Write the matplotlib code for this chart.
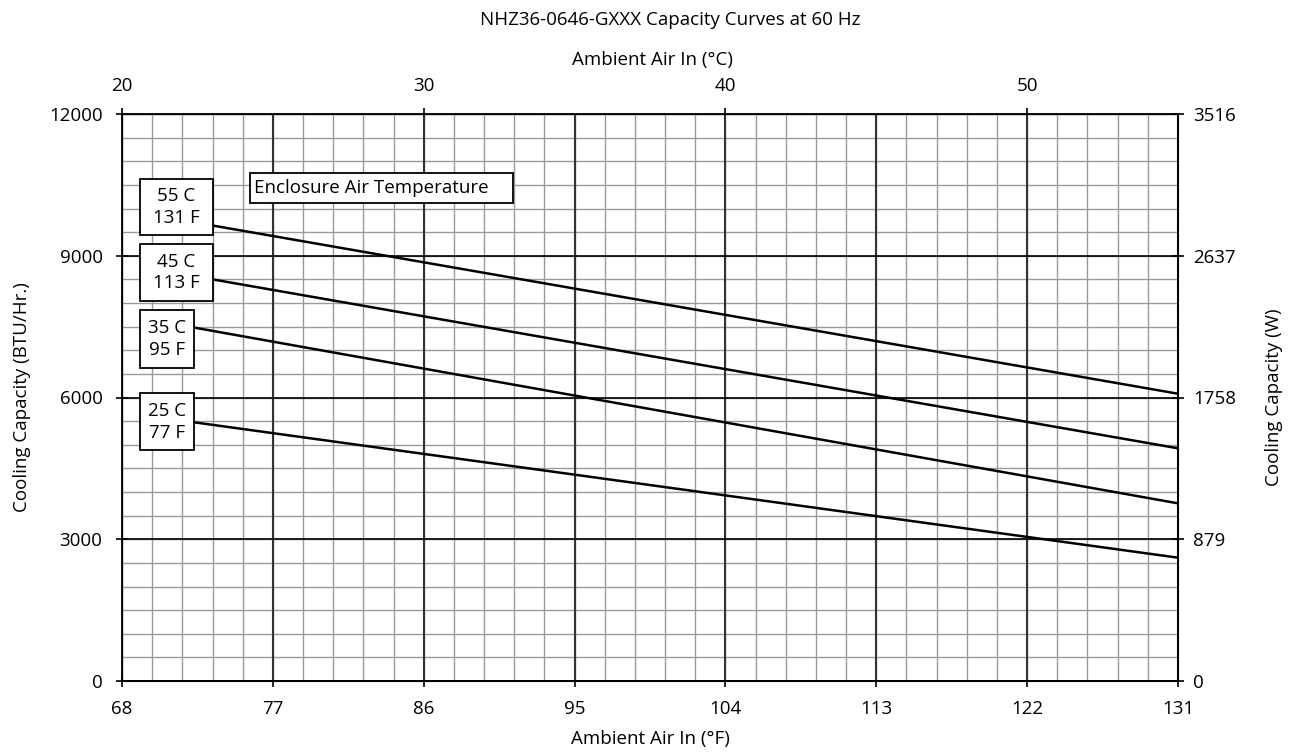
import numpy as np
import matplotlib.pyplot as plt
from matplotlib.patches import Rectangle

plt.rcParams['font.family'] = ['Open Sans', 'DejaVu Sans']

# curve endpoints (deg F, BTU/Hr)
curve_names = ['55 C\n131 F', '45 C\n113 F', '35 C\n95 F', '25 C\n77 F']
x_start = [73.4, 73.4, 72.3, 72.3]
x_end = [131, 131, 131, 131]
y_start = [9640, 8500, 7480, 5475]
y_end = [6080, 4925, 3760, 2610]

f_ticks = [68, 77, 86, 95, 104, 113, 122, 131]
c_ticks = [20, 30, 40, 50]
btu_ticks = [0, 3000, 6000, 9000, 12000]
w_ticks = [0, 879, 1758, 2637, 3516]

FS = 13.5
W, H = 1298, 752

fig = plt.figure(figsize=(W / 100, H / 100), dpi=100)
ax = fig.add_axes([122 / W, 71 / H, 1056 / W, 567 / H])
ax.set_xlim(68, 131)
ax.set_ylim(0, 12000)

# minor grid: 1 C steps and 500 BTU steps
for xv in np.arange(68, 131.01, 1.8):
    ax.axvline(xv, color='#9a9a9a', lw=1.0, zorder=1)
for yv in np.arange(0, 12001, 500):
    ax.axhline(yv, color='#9a9a9a', lw=1.0, zorder=1)
for xv in f_ticks:
    ax.axvline(xv, color='#333333', lw=1.5, zorder=2)
for yv in btu_ticks:
    ax.axhline(yv, color='black', lw=1.2, zorder=2)

for i in range(len(curve_names)):
    ax.plot([x_start[i], x_end[i]], [y_start[i], y_end[i]], color='black', lw=1.8, zorder=4)

# label boxes (left edge, right edge, bottom, top in data units)
boxes = [(69.07, 73.41, 9433, 10631), (69.07, 73.41, 8042, 9255),
         (69.07, 72.27, 6631, 7845), (69.07, 72.27, 4883, 6089)]
for name, (x0, x1, y0, y1) in zip(curve_names, boxes):
    ax.add_patch(Rectangle((x0, y0), x1 - x0, y1 - y0, fc='white', ec='black', lw=1.3, zorder=5))
    ax.text((x0 + x1) / 2, (y0 + y1) / 2, name, ha='center', va='center', fontsize=FS,
            linespacing=1.25, zorder=6)

ax.add_patch(Rectangle((75.62, 10110), 91.31 - 75.62, 10745 - 10110, fc='white', ec='black',
                       lw=1.3, zorder=5))
ax.text(75.9, 10427, 'Enclosure Air Temperature', ha='left', va='center', fontsize=FS, zorder=6)

ax.set_xticks(f_ticks)
ax.set_yticks(btu_ticks)
ax.tick_params(labelsize=FS, length=8, width=1.2, direction='inout', pad=10)
for s in ax.spines.values():
    s.set_linewidth(1.3)

top = ax.secondary_xaxis('top', functions=(lambda f: (f - 32) / 1.8, lambda c: c * 1.8 + 32))
top.set_xticks(c_ticks)
top.tick_params(labelsize=FS, length=8, width=1.2, direction='inout', pad=10)

ax2 = ax.twinx()
ax2.set_ylim(0, 3516)
ax2.set_yticks(w_ticks)
ax2.tick_params(labelsize=FS, length=8, width=1.2, direction='inout', pad=7)

fig.text(650 / W, 1 - 739 / H, 'Ambient Air In (°F)', ha='center', va='center', fontsize=FS)
fig.text(652 / W, 1 - 60 / H, 'Ambient Air In (°C)', ha='center', va='center', fontsize=FS)
fig.text(22 / W, 1 - 397 / H, 'Cooling Capacity (BTU/Hr.)', ha='center', va='center',
         rotation=90, fontsize=FS)
fig.text(1274 / W, 1 - 397 / H, 'Cooling Capacity (W)', ha='center', va='center',
         rotation=90, fontsize=FS)
fig.text(670 / W, 1 - 20 / H, 'NHZ36-0646-GXXX Capacity Curves at 60 Hz', ha='center',
         va='center', fontsize=FS)

fig.savefig('out.png', dpi=100)
